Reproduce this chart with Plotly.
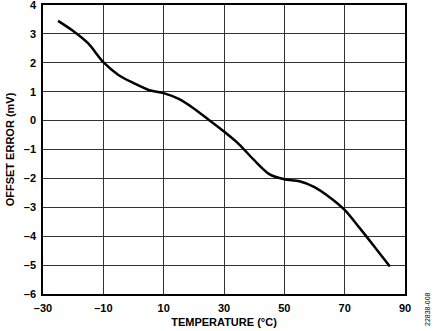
import plotly.graph_objects as go

temperature = [-25, -20, -15, -10, -5, 0, 5, 10, 15, 20, 25, 30, 35, 40, 45, 50, 55, 60, 65, 70, 75, 80, 85]
offset_error = [3.45, 3.1, 2.67, 2.02, 1.58, 1.3, 1.06, 0.95, 0.75, 0.42, 0.02, -0.38, -0.82, -1.37, -1.85,
                -2.03, -2.1, -2.3, -2.65, -3.09, -3.72, -4.38, -5.05]

x_ticks = [-30, -10, 10, 30, 50, 70, 90]
x_ticktext = ["<b>–30</b>", "<b>–10</b>", "<b>10</b>", "<b>30</b>", "<b>50</b>", "<b>70</b>", "<b>90</b>"]
y_ticks = [-6, -5, -4, -3, -2, -1, 0, 1, 2, 3, 4]
y_ticktext = ["<b>–6</b>", "<b>–5</b>", "<b>–4</b>", "<b>–3</b>", "<b>–2</b>", "<b>–1</b>",
              "<b>0</b>", "<b>1</b>", "<b>2</b>", "<b>3</b>", "<b>4</b>"]

W, H = 435, 331
ml, mr, mt, mb = 43, 30, 5, 37
pw, ph = W - ml - mr, H - mt - mb

fig = go.Figure()
fig.add_trace(go.Scatter(x=temperature, y=offset_error, mode="lines",
                         line=dict(color="black", width=2.5, shape="spline", smoothing=0.8),
                         showlegend=False, hoverinfo="skip"))

font_family = "Liberation Sans"
axis_common = dict(showgrid=True, gridcolor="#333333", gridwidth=1, showline=True, linecolor="black",
                   linewidth=1.5, mirror=True, ticks="", zeroline=False, automargin=False,
                   ticklabeloverflow="allow",
                   tickfont=dict(family=font_family, size=11, color="#000000"))

fig.update_xaxes(range=[-30, 90], tickvals=x_ticks, ticktext=x_ticktext, ticklabelstandoff=3,
                 title=dict(text="<b>TEMPERATURE (°C)</b>", standoff=5,
                            font=dict(family=font_family, size=11, color="#000000")),
                 **axis_common)
fig.update_yaxes(range=[-6, 4], tickvals=y_ticks, ticktext=y_ticktext, ticklabelstandoff=3,
                 title=dict(text="<b>OFFSET ERROR (mV)</b>", standoff=7,
                            font=dict(family=font_family, size=11, color="#000000")),
                 **axis_common)

fig.add_annotation(text="22838-008", x=(427 - ml) / pw, y=(H - mb - 309) / ph,
                   xref="paper", yref="paper", showarrow=False, xanchor="center", yanchor="middle",
                   textangle=-90, font=dict(family=font_family, size=7, color="#000000"))

fig.update_layout(template="none", width=W, height=H, margin=dict(l=ml, r=mr, t=mt, b=mb, autoexpand=False),
                  plot_bgcolor="white", paper_bgcolor="white")

fig.write_html("out.html", config={"displayModeBar": False},
               post_script="document.body.style.margin='0';document.body.style.padding='0';")
